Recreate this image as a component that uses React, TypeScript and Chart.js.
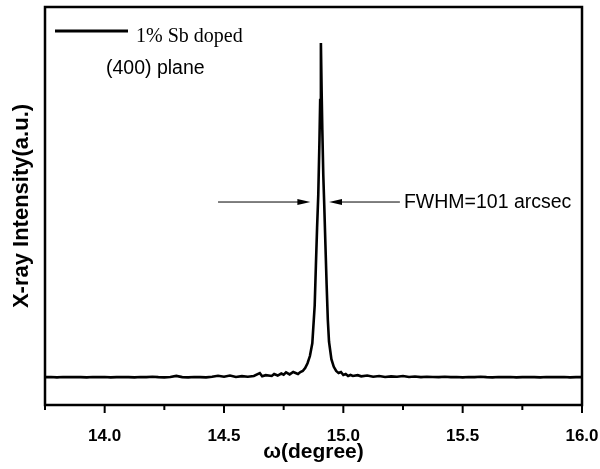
import React, { useEffect, useRef } from "react";
import { Chart, registerables } from "chart.js";

Chart.register(...registerables);

// ω (degree) positions of the scan
const omega: number[] = [
  13.75, 13.775, 13.8, 13.825, 13.85, 13.875, 13.9, 13.925, 13.95, 13.975,
  14.0, 14.025, 14.05, 14.075, 14.1, 14.125, 14.15, 14.175, 14.2, 14.225,
  14.25, 14.275, 14.3, 14.325, 14.35, 14.375, 14.4, 14.425, 14.45, 14.475,
  14.5, 14.525, 14.55, 14.575, 14.6, 14.625, 14.65, 14.66, 14.675, 14.7,
  14.71, 14.725, 14.74, 14.75, 14.76, 14.775, 14.79,
  14.8, 14.81, 14.82, 14.83, 14.84, 14.85, 14.86, 14.87, 14.88, 14.885,
  14.89, 14.895, 14.9, 14.903, 14.906, 14.909, 14.912, 14.916, 14.92, 14.925,
  14.93, 14.935, 14.94, 14.95, 14.96, 14.97, 14.98, 14.99, 15.0, 15.01,
  15.02, 15.03, 15.04, 15.06, 15.075, 15.1, 15.125, 15.15, 15.175, 15.2,
  15.225, 15.25, 15.275, 15.3, 15.325, 15.35, 15.375, 15.4, 15.425, 15.45,
  15.475, 15.5, 15.525, 15.55, 15.575, 15.6, 15.625, 15.65, 15.675, 15.7,
  15.725, 15.75, 15.775, 15.8, 15.825, 15.85, 15.875, 15.9, 15.925, 15.95,
  15.975, 16.0,
];

// X-ray intensity (a.u.)
const intensity: number[] = [
  7.0, 7.05, 6.95, 7.05, 7.0, 7.05, 7.0, 6.95, 7.05, 7.0,
  7.05, 6.95, 7.0, 7.05, 7.0, 6.95, 7.05, 7.0, 7.1, 7.0,
  6.95, 7.05, 7.3, 7.0, 6.95, 7.05, 7.0, 6.95, 7.1, 7.35,
  7.1, 7.4, 7.05, 7.25, 7.1, 7.3, 8.0, 7.2, 7.5, 7.3,
  7.8, 7.4, 7.9, 7.6, 8.2, 7.7, 8.3,
  8.04, 7.79, 8.29, 8.54, 9.3, 10.5, 12.3, 15.5, 25.0, 35.0,
  44.5, 52.8, 66.6, 76.6, 90.95, 79.1, 69.1, 57.8, 50.3, 40.2,
  30.2, 21.4, 15.9, 11.5, 9.6, 8.54, 8.04, 8.29, 7.54, 7.79,
  7.29, 7.54, 7.29, 7.5, 7.2, 7.4, 7.1, 7.3, 7.05, 7.2,
  7.1, 7.3, 7.05, 7.15, 7.0, 7.1, 7.05, 7.0, 7.1, 7.0,
  7.05, 6.95, 7.05, 7.0, 7.1, 7.0, 6.95, 7.05, 7.0, 7.05,
  6.95, 7.0, 7.05, 7.0, 6.95, 7.05, 7.0, 7.0, 7.05, 6.95,
  7.0, 7.0,
];

const majorTicks: number[] = [14.0, 14.5, 15.0, 15.5, 16.0];
const minorTicks: number[] = [13.75, 14.25, 14.75, 15.25, 15.75];

const seriesLabel = "1% Sb doped";
const planeLabel = "(400) plane";
const fwhmLabel = "FWHM=101 arcsec";
// arrow annotation (data units)
const arrowLevel = 51.0;
const leftArrow: number[] = [14.475, 14.862];
const rightArrow: number[] = [15.237, 14.94];
const fwhmTextX = 15.254;

const framePlugin = {
  id: "framePlugin",
  afterDraw(chart: any) {
    const { ctx, chartArea } = chart;
    const xs = chart.scales.x;
    const ys = chart.scales.y;
    ctx.save();
    // frame
    ctx.strokeStyle = "#000";
    ctx.lineWidth = 2.5;
    ctx.strokeRect(chartArea.left, chartArea.top, chartArea.right - chartArea.left, chartArea.bottom - chartArea.top);
    // ticks
    ctx.lineWidth = 2;
    ctx.beginPath();
    majorTicks.forEach((v) => {
      const px = xs.getPixelForValue(v);
      ctx.moveTo(px, chartArea.bottom);
      ctx.lineTo(px, chartArea.bottom + 8);
    });
    minorTicks.forEach((v) => {
      const px = xs.getPixelForValue(v);
      ctx.moveTo(px, chartArea.bottom);
      ctx.lineTo(px, chartArea.bottom + 5);
    });
    ctx.stroke();

    // legend
    const lx = chartArea.left + 10;
    const ly = chartArea.top + 24;
    ctx.lineWidth = 3;
    ctx.beginPath();
    ctx.moveTo(lx, ly);
    ctx.lineTo(lx + 73, ly);
    ctx.stroke();
    ctx.fillStyle = "#000";
    ctx.font = '20px "Liberation Serif", "Times New Roman", serif';
    ctx.textBaseline = "alphabetic";
    ctx.textAlign = "left";
    ctx.fillText(seriesLabel, lx + 81, ly + 11);
    ctx.font = '19.5px "Liberation Sans", Arial, sans-serif';
    ctx.fillText(planeLabel, chartArea.left + 61, chartArea.top + 67);

    // arrows
    const ay = ys.getPixelForValue(arrowLevel);
    const drawArrow = (fromV: number, toV: number) => {
      const x0 = xs.getPixelForValue(fromV);
      const x1 = xs.getPixelForValue(toV);
      const dir = x1 > x0 ? 1 : -1;
      ctx.lineWidth = 1;
      ctx.beginPath();
      ctx.moveTo(x0, ay);
      ctx.lineTo(x1 - dir * 10, ay);
      ctx.stroke();
      ctx.beginPath();
      ctx.moveTo(x1, ay);
      ctx.lineTo(x1 - dir * 13, ay - 3);
      ctx.lineTo(x1 - dir * 13, ay + 3);
      ctx.closePath();
      ctx.fill();
    };
    drawArrow(leftArrow[0], leftArrow[1]);
    drawArrow(rightArrow[0], rightArrow[1]);
    ctx.font = '19.5px "Liberation Sans", Arial, sans-serif';
    ctx.textBaseline = "middle";
    ctx.fillText(fwhmLabel, xs.getPixelForValue(fwhmTextX), ay + 1);
    ctx.restore();
  },
};

export default function App() {
  const ref = useRef<HTMLCanvasElement | null>(null);
  useEffect(() => {
    if (!ref.current) return;
    const chart = new Chart(ref.current, {
      type: "line",
      data: {
        datasets: [
          {
            label: seriesLabel,
            data: omega.map((x, i) => ({ x, y: intensity[i] })),
            borderColor: "#000",
            borderWidth: 2.6,
            pointRadius: 0,
            tension: 0,
            fill: false,
          },
        ],
      },
      options: {
        animation: false,
        responsive: false,
        devicePixelRatio: 1,
        layout: { padding: { top: 7, right: 18, left: 0, bottom: 0 } },
        plugins: { legend: { display: false }, tooltip: { enabled: false } },
        scales: {
          x: {
            type: "linear",
            min: 13.75,
            max: 16.0,
            afterBuildTicks: (scale: any) => {
              scale.ticks = majorTicks.map((v) => ({ value: v }));
            },
            afterFit: (scale: any) => {
              scale.height = 64;
              scale.paddingLeft = 0;
              scale.paddingRight = 0;
            },
            grid: { display: false },
            border: { display: false },
            ticks: {
              color: "#000",
              padding: 13,
              maxRotation: 0,
              autoSkip: false,
              font: { family: '"Liberation Sans", Arial, sans-serif', size: 17, weight: "bold" },
              callback: (v: any) => Number(v).toFixed(1),
            },
            title: {
              display: true,
              text: "ω(degree)",
              color: "#000",
              padding: { top: 0, bottom: 4 },
              font: { family: '"Liberation Sans", Arial, sans-serif', size: 21, weight: "bold" },
            },
          },
          y: {
            min: 0,
            max: 100,
            afterFit: (scale: any) => {
              scale.width = 45;
            },
            grid: { display: false },
            border: { display: false },
            ticks: { display: false },
            title: {
              display: true,
              text: "X-ray Intensity(a.u.)",
              color: "#000",
              padding: { top: 9, bottom: 0 },
              font: { family: '"Liberation Sans", Arial, sans-serif', size: 22, weight: "bold" },
            },
          },
        },
      },
      plugins: [framePlugin],
    } as any);
    return () => chart.destroy();
  }, []);
  return (
    <div style={{ position: "absolute", left: 0, top: 0, width: 600, height: 469, background: "#fff" }}>
      <canvas ref={ref} width={600} height={469} style={{ width: 600, height: 469, display: "block" }} />
    </div>
  );
}
